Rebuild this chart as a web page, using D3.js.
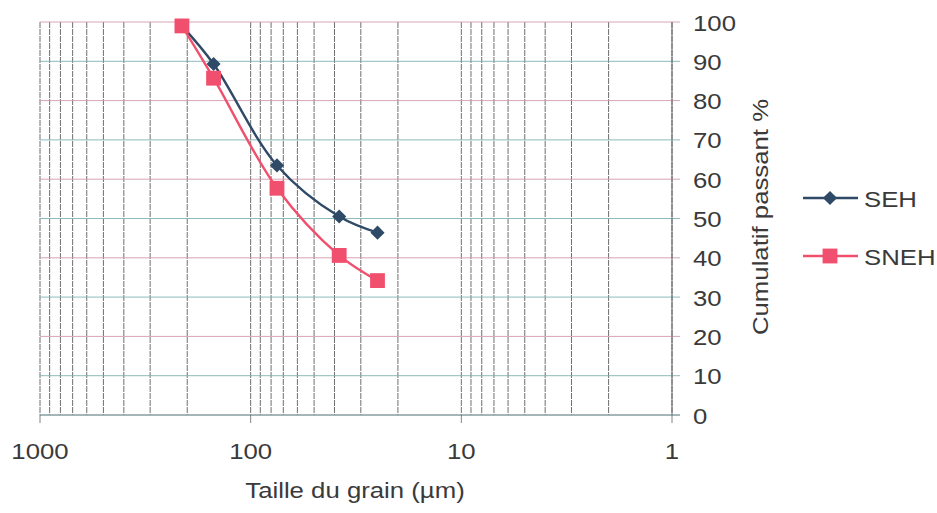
<!DOCTYPE html>
<html>
<head>
<meta charset="utf-8">
<script src="https://cdn.jsdelivr.net/npm/d3@7"></script>
<style>
  body { margin: 0; background: #fff; }
  text { font-family: "Liberation Sans", Arial, sans-serif; fill: #3a3a3a; }
</style>
</head>
<body>
<svg id="chart"></svg>
<script>
// grain sizes (µm) and cumulative passing (%)
const sizes = [212, 150, 75, 38, 25]
const seh = [99, 89.3, 63.5, 50.5, 46.4]
const sneh = [99, 85.7, 57.7, 40.6, 34.2]
const xTicks = [1000, 100, 10, 1]
const yTicks = [0, 10, 20, 30, 40, 50, 60, 70, 80, 90, 100]
const seriesNames = ["SEH", "SNEH"]
const seriesColors = ["#2f4a66", "#f0506e"]

let svg = d3.select("#chart").attr("width", 937).attr("height", 513)

let plotLeft = 40, plotRight = 672, plotTop = 22, plotBottom = 415

let x = d3.scaleLog().domain([1000, 1]).range([plotLeft, plotRight])
let y = d3.scaleLinear().domain([0, 100]).range([plotBottom, plotTop])

function translate(a, b) { return "translate(" + a + "," + b + ")" }

// text is a little wider in the scan than Liberation Sans, stretch it
function label(parent, tx, ty, str, anchor, rot) {
    let t = parent.append("text")
        .attr("transform", translate(tx, ty) + (rot ? " rotate(" + rot + ")" : "") + " scale(1.12,1)")
        .attr("font-size", 23).attr("text-anchor", anchor || "start").text(str)
    return t
}

// vertical grid (1..9 in each decade, plus 1000)
let minor = [1000]
for (let d of [100, 10, 1]) for (let k = 1; k <= 9; k++) minor.push(d * k)

svg.append("g").selectAll("line").data(minor).enter().append("line")
    .attr("x1", d => x(d)).attr("x2", d => x(d))
    .attr("y1", plotTop).attr("y2", plotBottom)
    .attr("stroke", "#4a4a4a").attr("stroke-width", 0.8)
    .attr("stroke-dasharray", "6,1")

// horizontal grid
svg.append("g").selectAll("line").data(yTicks).enter().append("line")
    .attr("x1", plotLeft).attr("x2", plotRight + 8)
    .attr("y1", d => y(d)).attr("y2", d => y(d))
    .attr("stroke", (d, i) => i % 2 ? "#7fb3b3" : "#d49aab").attr("stroke-width", 0.9)

// right axis line
svg.append("line").attr("x1", plotRight).attr("x2", plotRight).attr("y1", plotTop).attr("y2", plotBottom)
    .attr("stroke", "#555").attr("stroke-width", 0.8)
// bottom axis line
svg.append("line").attr("x1", plotLeft).attr("x2", plotRight + 8).attr("y1", plotBottom).attr("y2", plotBottom)
    .attr("stroke", "#5f9e98").attr("stroke-width", 1.1)

// x decade ticks + labels
svg.append("g").selectAll("line").data(xTicks).enter().append("line")
    .attr("x1", d => x(d)).attr("x2", d => x(d))
    .attr("y1", plotBottom).attr("y2", plotBottom + 8).attr("stroke", "#666").attr("stroke-width", 0.8)
let xl = svg.append("g")
xTicks.forEach(d => label(xl, x(d), 459, d, "middle"))

// y labels on the right
let yl = svg.append("g")
yTicks.forEach(d => label(yl, 693, y(d) + 8.5, d))

// axis titles
label(svg, 355, 498, "Taille du grain (µm)", "middle")
label(svg, 768, 217, "Cumulatif passant %", "middle", -90)

// series
let line = d3.line().x(d => x(d[0])).y(d => y(d[1])).curve(d3.curveCatmullRom.alpha(0.5))
let data = [seh, sneh].map(vals => sizes.map((s, i) => [s, vals[i]]))
let diamond = d3.symbol().type(d3.symbolSquare).size(100)
let square = d3.symbol().type(d3.symbolSquare).size(220)
let symbols = [diamond, square]
let rot = [" rotate(45)", ""]

data.forEach((pts, k) => {
    svg.append("path").attr("d", line(pts)).attr("fill", "none")
        .attr("stroke", seriesColors[k]).attr("stroke-width", 2.4)
    svg.append("g").selectAll("path").data(pts).enter().append("path")
        .attr("d", symbols[k]).attr("transform", d => translate(x(d[0]), y(d[1])) + rot[k])
        .attr("fill", seriesColors[k])
})

// legend
let legY = [198, 256]
seriesNames.forEach((name, k) => {
    let g = svg.append("g").attr("transform", translate(0, legY[k]))
    g.append("line").attr("x1", 803).attr("x2", 858).attr("y1", 0).attr("y2", 0)
        .attr("stroke", seriesColors[k]).attr("stroke-width", 2.4)
    g.append("path").attr("d", symbols[k]).attr("transform", translate(830, 0) + rot[k]).attr("fill", seriesColors[k])
    label(g, 864, 8.5, name)
})
</script>
</body>
</html>
